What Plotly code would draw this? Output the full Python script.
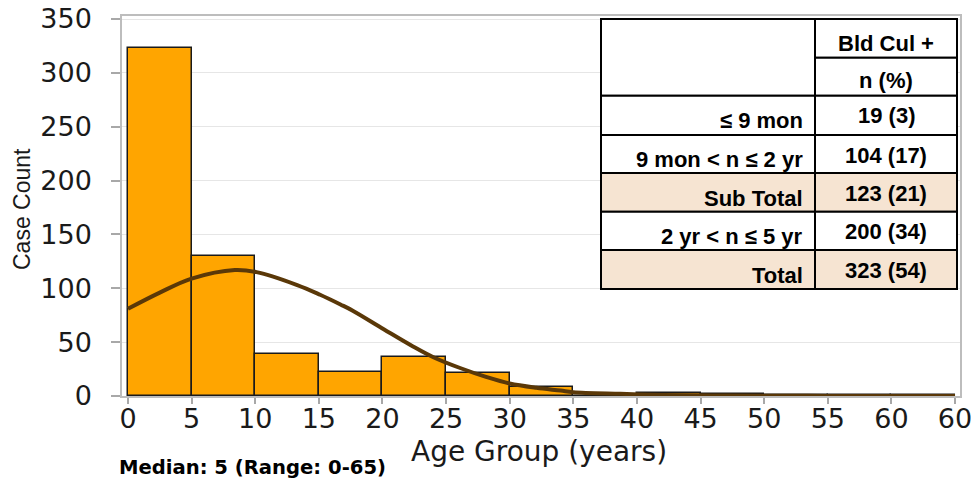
import plotly.graph_objects as go

# ---------------- data ----------------
bin_starts = [0, 5, 10, 15, 20, 25, 30, 35, 40, 45, 50, 55, 60]
bin_width = 5
case_counts = [323, 130, 39, 22, 36, 21, 8, 0, 3, 2, 1, 1, 1]

curve_x = [0, 2.5, 5, 8.4, 10.1, 13.3, 15.1, 16.7, 17.7, 20.1, 22.4, 24.0, 26.1,
           28.2, 30, 32.1, 34, 35, 38.7, 42, 46, 50, 55, 60, 65]
curve_y = [81, 96, 109, 117, 115, 103, 94, 85, 79, 62, 46, 36, 26,
           17.5, 11.6, 7.6, 5, 3.5, 2, 1, 0.5, 0.2, 0.1, 0.1, 0.1]

x_tick_vals = [0, 5, 10, 15, 20, 25, 30, 35, 40, 45, 50, 55, 60, 65]
x_tick_text = ["0", "5", "10", "15", "20", "25", "30", "35", "40", "45", "50", "55", "60", "60"]
y_tick_vals = [0, 50, 100, 150, 200, 250, 300, 350]

table_header = ["Bld Cul +", "n (%)"]
table_rows = ["\u2264 9 mon", "9 mon < n \u2264 2 yr", "Sub Total", "2 yr < n \u2264 5 yr", "Total"]
table_values = ["19 (3)", "104 (17)", "123 (21)", "200 (34)", "323 (54)"]
table_shaded = [False, False, True, False, True]

x_title = "Age Group (years)"
y_title = "Case Count"
note_text = "Median: 5 (Range: 0-65)"

# ---------------- layout geometry (pixels) ----------------
W, H = 971, 481
ML, MR, MT, MB = 122, 11, 16, 85
PW = W - ML - MR
PH = H - MT - MB


def fx(p):
    return (p - ML) / PW


def fy(p):
    return (H - MB - p) / PH


bar_centers = [s + bin_width / 2 for s in bin_starts]

fig = go.Figure()
fig.add_trace(go.Bar(
    x=bar_centers, y=case_counts, width=bin_width,
    marker=dict(color="#FFA500", line=dict(color="#1a1a1a", width=1.5)),
    hoverinfo="x+y", showlegend=False,
))
fig.add_trace(go.Scatter(
    x=curve_x, y=curve_y, mode="lines",
    line=dict(color="#5A3808", width=4, shape="spline", smoothing=1.0),
    showlegend=False,
))

tick_font = dict(family="DejaVu Sans", size=27, color="#1a1a1a")
fig.update_layout(
    width=W, height=H,
    margin=dict(l=ML, r=MR, t=MT, b=MB, pad=0, autoexpand=False),
    paper_bgcolor="white", plot_bgcolor="white",
    bargap=0,
    xaxis=dict(
        range=[-0.47, 65.39], tickmode="array", tickvals=x_tick_vals, ticktext=x_tick_text,
        ticks="outside", ticklen=6, tickcolor="#A8A8A8", tickwidth=1.5,
        showline=True, linecolor="#BDBDBD", linewidth=1.5, mirror=True,
        showgrid=False, zeroline=False, tickfont=tick_font, ticklabelstandoff=-8,
        ticklabeloverflow="allow", automargin=False,
    ),
    yaxis=dict(
        range=[0, 352.8], tickmode="array", tickvals=y_tick_vals,
        ticks="outside", ticklen=9, tickcolor="#A8A8A8", tickwidth=1.5,
        showline=True, linecolor="#BDBDBD", linewidth=1.5, mirror=True,
        showgrid=True, gridcolor="#E6E6E6", gridwidth=1.2, zeroline=False,
        tickfont=tick_font, ticklabelstandoff=14, ticklabeloverflow="allow",
        automargin=False,
    ),
)

annotations = [
    dict(text=x_title, x=fx(539), y=fy(451), xref="paper", yref="paper",
         xanchor="center", yanchor="middle", showarrow=False,
         font=dict(family="DejaVu Sans", size=28, color="#1a1a1a")),
    dict(text=y_title, x=fx(22), y=fy(209), xref="paper", yref="paper",
         xanchor="center", yanchor="middle", showarrow=False, textangle=-90,
         font=dict(family="Liberation Sans", size=23, color="#1a1a1a")),
    dict(text="<b>" + note_text + "</b>", x=fx(117), y=fy(468), xref="paper", yref="paper",
         xanchor="left", yanchor="middle", showarrow=False,
         font=dict(family="DejaVu Sans", size=19.6, color="#000000")),
]

# ---------------- table ----------------
col_x = [601, 815, 957]
head_y = [19, 57.7, 95.7]
row_y = [95.7, 135, 173, 211.7, 250, 289]
shaded_color = "#F6E4D2"
border = dict(color="#000000", width=2)
shapes = []


def cell(x0, x1, y0, y1, fill):
    shapes.append(dict(type="rect", xref="paper", yref="paper",
                       x0=fx(x0), x1=fx(x1), y0=fy(y1), y1=fy(y0),
                       fillcolor=fill, line=border, layer="above"))


cell(col_x[0], col_x[1], head_y[0], head_y[2], "white")
cell(col_x[1], col_x[2], head_y[0], head_y[1], "white")
cell(col_x[1], col_x[2], head_y[1], head_y[2], "white")
for i, shaded in enumerate(table_shaded):
    fill = shaded_color if shaded else "white"
    cell(col_x[0], col_x[1], row_y[i], row_y[i + 1], fill)
    cell(col_x[1], col_x[2], row_y[i], row_y[i + 1], fill)

tfont = dict(family="Liberation Sans", size=22, color="#000000")
annotations.append(dict(text="<b>" + table_header[0] + "</b>", x=fx(886), y=fy(43),
                        xref="paper", yref="paper", xanchor="center", yanchor="middle",
                        showarrow=False, font=tfont))
annotations.append(dict(text="<b>" + table_header[1] + "</b>", x=fx(886), y=fy(81),
                        xref="paper", yref="paper", xanchor="center", yanchor="middle",
                        showarrow=False, font=tfont))
for i, (lab, val) in enumerate(zip(table_rows, table_values)):
    top = row_y[i]
    annotations.append(dict(text="<b>" + lab + "</b>", x=fx(805), y=fy(top + 25),
                            xref="paper", yref="paper", xanchor="right", yanchor="middle",
                            showarrow=False, font=tfont))
    annotations.append(dict(text="<b>" + val + "</b>", x=fx(886), y=fy(top + 20),
                            xref="paper", yref="paper", xanchor="center", yanchor="middle",
                            showarrow=False, font=tfont))

fig.update_layout(annotations=annotations, shapes=shapes)
fig.write_html(
    "out.html",
    config={"displayModeBar": False},
    post_script="document.body.style.margin='0';document.body.style.overflow='hidden';",
)
